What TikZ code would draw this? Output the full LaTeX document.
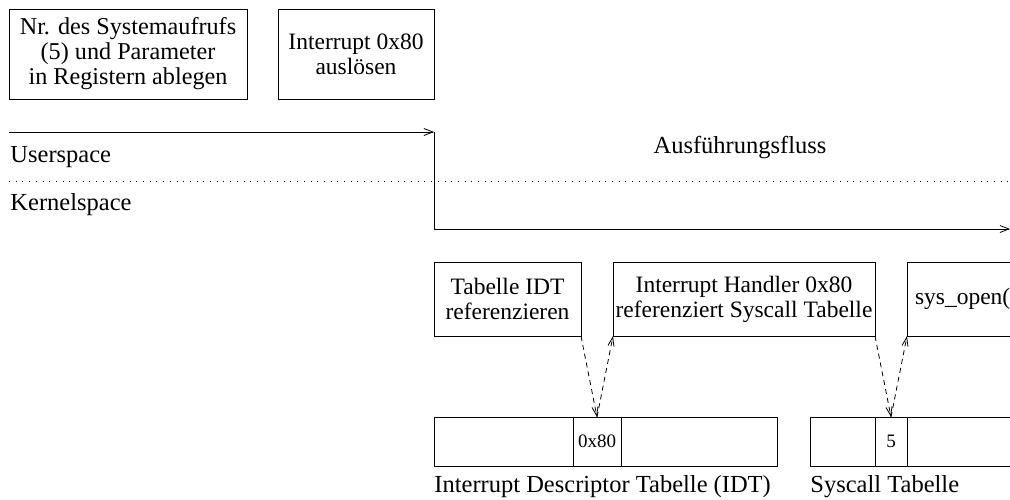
\documentclass[tikz,border=0pt]{standalone}
\usepackage{fontspec}
\setmainfont{Liberation Serif}
\usetikzlibrary{positioning,arrows.meta}

\begin{document}
\begin{tikzpicture}[x=1pt, y=-1pt, line width=0.9pt,
        every node/.style={font=\fontsize{23.5}{25}\selectfont},
        box/.style={draw, rectangle, align=center, inner sep=2pt, outer sep=0pt},
        cell/.style={draw, rectangle, minimum height=49pt, inner sep=0pt, outer sep=0pt, font=\fontsize{19}{20}\selectfont},
        lbl/.style={anchor=west, inner sep=0pt, font=\fontsize{24.5}{26}\selectfont},
        flow/.style={-{Straight Barb[length=9pt, width=7pt, line width=0.8pt]}},
        ref/.style={dash pattern=on 5pt off 4pt, line width=0.8pt, -{Straight Barb[length=9pt, width=6pt, line width=0.8pt]}}]
        \useasboundingbox (0,0) rectangle (1010,499);

        % Define Nodes
        \node[box, minimum width=238pt, minimum height=90pt, font=\fontsize{24.2}{25}\selectfont] (sysnr) at (128,54) {Nr. des Systemaufrufs\\(5) und Parameter\\in Registern ablegen};
        \node[box, minimum width=156pt, minimum height=90pt] (intr) at (356,54) {Interrupt 0x80\\auslösen};

        \coordinate (start) at (9,132);
        \coordinate (trap) at (434,132);
        \coordinate (kern) at (434,229);
        \coordinate (end) at (1010,229);
        \coordinate (sepl) at (9,181);
        \coordinate (sepr) at (1010,181);

        \node[lbl] (user) at (10,157) {Userspace};
        \node[lbl] (kernel) at (10,205) {Kernelspace};
        \node[font=\fontsize{24.5}{26}\selectfont] (flowtxt) at (740,148) {Ausführungsfluss};

        \node[box, minimum width=147pt, minimum height=74pt] (idtref) at (507.5,299) {Tabelle IDT\\referenzieren};
        \node[box, minimum width=262pt, minimum height=74pt] (handler) at (744,299) {Interrupt Handler 0x80\\referenziert Syscall Tabelle};
        \node[box, anchor=north west, minimum width=140pt, minimum height=74pt, text width=124pt, align=left, inner xsep=8pt] (sysopen) at (907,262) {sys\_open(};

        % Tables
        \node[cell, minimum width=139pt, anchor=north west] (idt1) at (434,417) {};
        \node[cell, minimum width=48pt, right=0pt of idt1] (idt2) {0x80};
        \node[cell, minimum width=156pt, right=0pt of idt2] (idt3) {};
        \node[cell, minimum width=65pt, anchor=north west] (sc1) at (810,417) {};
        \node[cell, minimum width=32pt, right=0pt of sc1] (sc2) {5};
        \node[cell, minimum width=140pt, right=0pt of sc2] (sc3) {};

        \node[lbl] (idtlbl) at (434,487) {Interrupt Descriptor Tabelle (IDT)};
        \node[lbl] (sclbl) at (810,487) {Syscall Tabelle};

        % Draw Edges
        \draw[flow] (start) -- (trap);
        \draw[flow] (trap) -- (kern) -- (end);
        \draw[dash pattern=on 1pt off 5.7pt, line width=0.8pt] (sepl) -- (sepr);
        \draw[ref] (idtref.south east) -- (idt2.north);
        \draw[ref] (idt2.north) -- (handler.south west);
        \draw[ref] (handler.south east) -- (sc2.north);
        \draw[ref] (sc2.north) -- (sysopen.south west);
    \end{tikzpicture}
\end{document}
